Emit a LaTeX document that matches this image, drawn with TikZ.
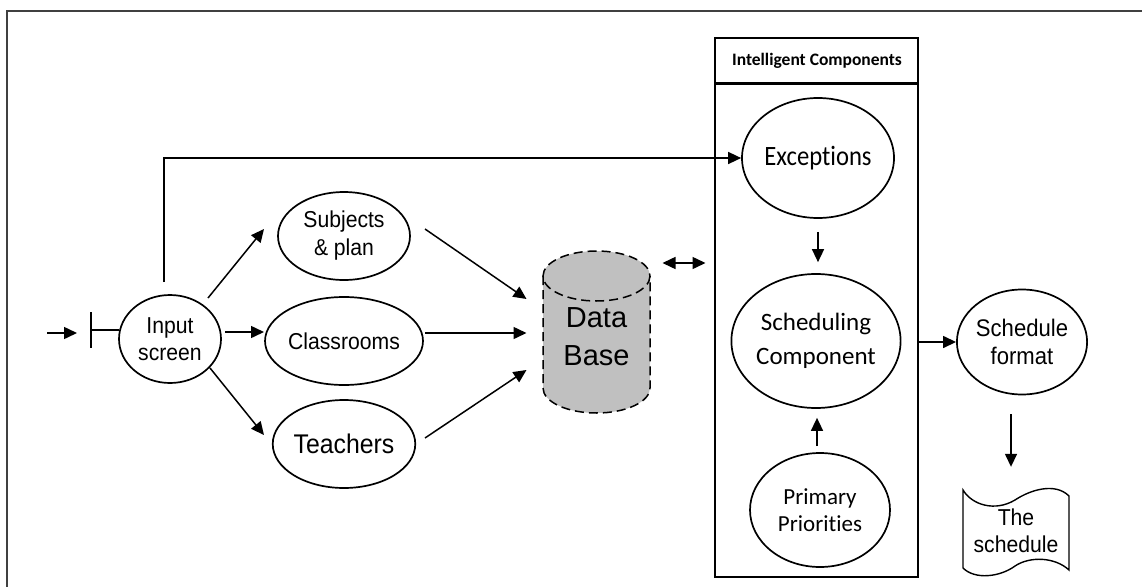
\documentclass[tikz,border=0pt]{standalone}
\usepackage{fontspec}
\setmainfont{Liberation Sans}
\newfontfamily\arialc{Liberation Sans}[FakeStretch=0.92]
\newfontfamily\calib{Carlito}[Ligatures=CommonOff]
\newfontfamily\calibc{Carlito}[FakeStretch=0.88,Ligatures=CommonOff]
\usetikzlibrary{shapes.geometric,arrows.meta}
\newcommand\setfs[2]{\fontsize{#1}{#2}\selectfont}
\definecolor{framegray}{HTML}{404040}
\definecolor{dbgray}{HTML}{C0C0C0}
\begin{document}
\begin{tikzpicture}[x=1pt,y=-1pt,
  bub/.style={draw=black, line width=1.7pt, ellipse, inner sep=0pt, align=center},
  arr/.style={-{Triangle[length=13pt,width=12pt]}, line width=1.5pt},
  darr/.style={{Triangle[length=13pt,width=12pt]}-{Triangle[length=13pt,width=12pt]}, line width=1.5pt},
  plain/.style={line width=1.5pt}
]
\useasboundingbox (0,0) rectangle (1142,586);
% outer frame (top and left edges)
\draw[framegray, line width=2.2pt] (7,590) -- (7,11) -- (1146,11);

% nodes
\node[bub, minimum width=102pt, minimum height=88pt, font=\arialc\setfs{23}{27}] (inp) at (170,339)
  {Input\\screen};
\node[bub, minimum width=132pt, minimum height=88pt, font=\arialc\setfs{23}{28}] (sub) at (344,236)
  {Subjects\\\&\ plan};
\node[bub, minimum width=132pt, minimum height=88pt, font=\arialc\setfs{23}{28}] (cls) at (344,341)
  {Classrooms};
\node[bub, minimum width=132pt, minimum height=88pt, font=\arialc\setfs{27}{30}] (tea) at (344,444)
  {Teachers};

% database cylinder
\fill[dbgray] (543,388) arc[start angle=180, end angle=0, x radius=53.5, y radius=25]
  -- (650,276) arc[start angle=0, end angle=-180, x radius=53.5, y radius=25] -- cycle;
\draw[line width=1.5pt, dash pattern=on 9pt off 5pt]
  (543,276) -- (543,388) arc[start angle=180, end angle=0, x radius=53.5, y radius=25] -- (650,276);
\draw[line width=1.5pt, dash pattern=on 9pt off 5pt] (596.5,276) ellipse[x radius=53.5, y radius=25];
\node[inner sep=0pt, minimum width=107pt, minimum height=162pt, align=center, font=\setfs{29}{38}] (db) at (596.5,337)
  {Data\\Base};

% intelligent components box
\node[draw, line width=1.6pt, inner sep=0pt, minimum width=203pt, minimum height=539pt] (ic) at (816.5,307.5) {};
\draw[line width=2.6pt] ([shift={(0,46)}]ic.north west) -- ([shift={(0,46)}]ic.north east);
\node[font=\calib\bfseries\setfs{17.5}{20}] (ich) at (817,61) {Intelligent Components};

\node[bub, minimum width=152pt, minimum height=120pt, font=\calibc\setfs{28}{30}] (exc) at (818,158)
  {Exceptions};
\node[bub, minimum width=150pt, minimum height=134pt, font=\calib\setfs{25}{34}] (sch) at (816,341)
  {Scheduling\\Component};
\node[bub, minimum width=140pt, minimum height=114pt, font=\calib\setfs{23}{27}] (pri) at (820,510)
  {Primary\\Priorities};

\node[bub, minimum width=115pt, minimum height=105pt, font=\arialc\setfs{24}{28}] (fmt) at (1022,342)
  {Schedule\\format};

% document shape
\draw[line width=1.4pt, fill=white]
  (963,490) .. controls (972,505) and (995,512) .. (1015,500)
  .. controls (1030,490) and (1055,482) .. (1069,496)
  -- (1069,570)
  .. controls (1055,557) and (1030,556) .. (1015,566)
  .. controls (1000,577) and (975,580) .. (963,568) -- cycle;
\node[inner sep=0pt, minimum width=106pt, minimum height=78pt, align=center, font=\arialc\setfs{23}{27}] (doc) at (1016,531)
  {The\\schedule};

% input arrow and bar
\coordinate (start) at (47,333);
\coordinate (startend) at (77,333);
\coordinate (bartop) at (91,312);
\coordinate (barbot) at (91,348);
\coordinate (barmid) at (91,330);
\draw[arr] (start) -- (startend);
\draw[plain] (bartop) -- (barbot);
\draw[plain] (barmid) -- ([shift={(1,0)}]barmid -| inp.west);

% connectors
\draw[arr] ([shift={(38,-41)}]inp.center) -- ([shift={(-80,-7)}]sub.center);
\draw[arr] ([shift={(55,-7)}]inp.center) -- ([shift={(-80,-9)}]cls.center);
\draw[arr] ([shift={(40,29)}]inp.center) -- ([shift={(-80,-9)}]tea.center);

\draw[arr] ([shift={(81,-7)}]sub.center) -- ([shift={(-70,-38)}]db.center);
\draw[arr] ([shift={(81,-8)}]cls.center) -- ([shift={(-70,-4)}]db.center);
\draw[arr] ([shift={(81,-6)}]tea.center) -- ([shift={(-70,33)}]db.center);

\draw[arr] ([shift={(-6,-57)}]inp.center) |- (exc.west);
\draw[darr] ([shift={(66,-74)}]db.center) -- ([shift={(109,-74)}]db.center);

\draw[arr, shorten <=13pt, shorten >=11pt] (exc.south) -- (exc.south |- sch.north);
\draw[arr, shorten <=6pt, shorten >=9pt] ([shift={(-3,0)}]pri.north) -- ([shift={(-3,0)}]pri.north |- sch.south);
\draw[arr] (ic.east |- fmt.west) -- (fmt.west);
\draw[arr] ([shift={(-11,19)}]fmt.south) -- ([shift={(-5,-25)}]doc.north);
\end{tikzpicture}
\end{document}
